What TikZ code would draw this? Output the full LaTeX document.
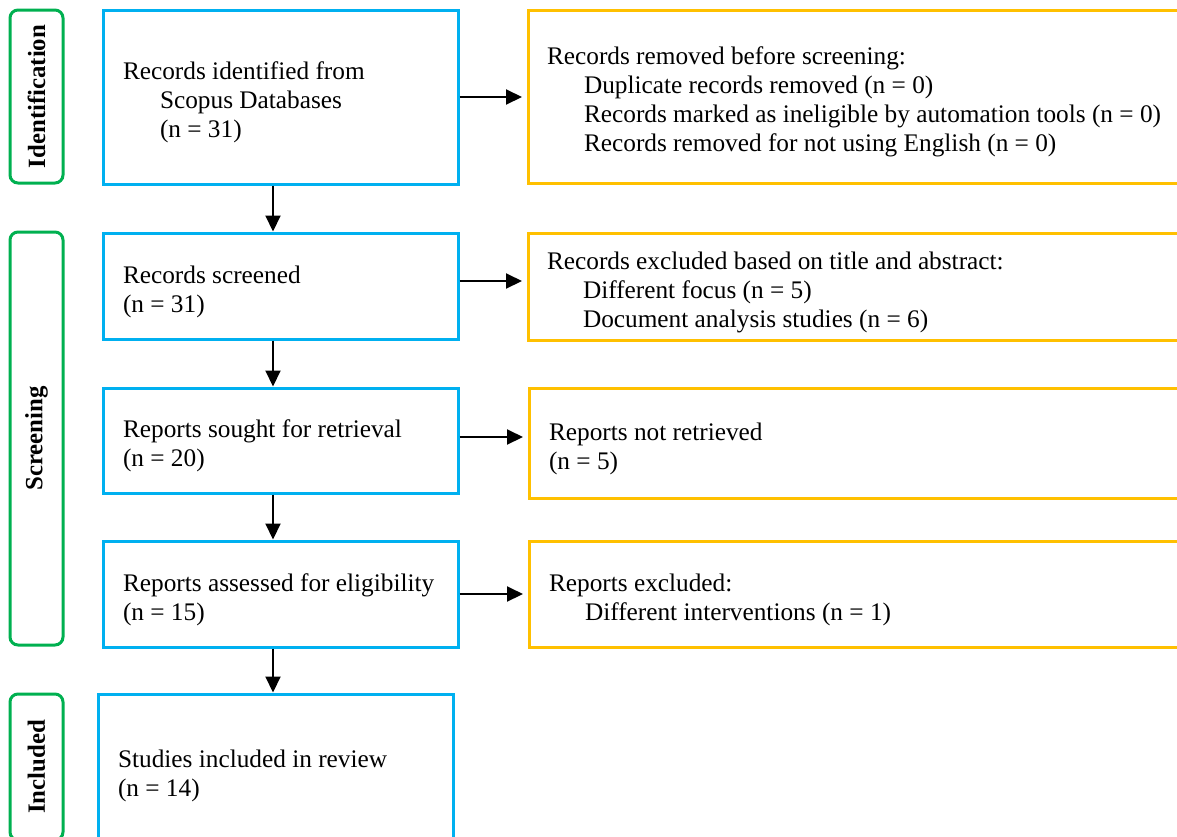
\documentclass[tikz,border=0pt]{standalone}
\usepackage{fontspec}
\setmainfont{Liberation Serif}
\usetikzlibrary{arrows.meta}

\definecolor{verde}{HTML}{00B050}
\definecolor{azul}{HTML}{00B0F0}
\definecolor{ambar}{HTML}{FFC000}

\newcommand{\iniciobox}[1]{\spaceskip 0.25em\relax\xspaceskip 0.25em\relax\noindent\rule{0pt}{#1}}

\tikzstyle{etapa}= [rectangle,rounded corners=4pt,draw=verde,line width=1.5pt,rotate=90,minimum height=26.5pt,inner sep=0pt,font=\bfseries\fontsize{12.4}{14}\selectfont]
\tikzstyle{registro}= [rectangle,draw=azul,line width=1.5pt,minimum width=177.5pt,text width=157.5pt,inner xsep=10pt,align=left,font=\fontsize{12.65}{14.5}\selectfont,execute at begin node={\iniciobox{14.5pt}}]
\tikzstyle{excluido}= [rectangle,draw=ambar,line width=1.5pt,text width=320pt,inner xsep=9.5pt,align=left,font=\fontsize{12.65}{14.5}\selectfont,execute at begin node={\iniciobox{14.5pt}}]
\tikzstyle{flecha}= [black,line width=1pt,-{Triangle[length=8pt,width=7.5pt]}]

\begin{document}
\hyphenpenalty=10000
\exhyphenpenalty=10000
\begin{tikzpicture}[x=0.5pt,y=-0.5pt]
		\clip (0,0) rectangle (1177,836);

		\node (g1) at (36.5,96.5) [etapa,minimum width=86.5pt] {Identification};
		\node (g2) at (36.5,438.5) [etapa,minimum width=206.5pt] {Screening};
		\node (g3) at (36.5,767) [etapa,minimum width=73pt] {Included};

		\node (b1) at (280.5,97) [registro,minimum height=87pt] {Records identified from\\\hspace*{18.5pt}Scopus Databases\\\hspace*{18.5pt}(n = 31)};
		\node (b2) at (280.5,286) [registro,minimum height=53pt] {Records screened\\(n = 31)};
		\node (b3) at (280.5,440.5) [registro,minimum height=52.5pt] {Reports sought for retrieval\\(n = 20)};
		\node (b4) at (280.5,594) [registro,minimum height=53pt] {Reports assessed for eligibility\\(n = 15)};
		\node (b5) at (275.5,770) [registro,minimum height=76pt,execute at begin node={\iniciobox{12.5pt}}] {Studies included in review\\(n = 14)};

		\node (o1) at (867,96.5) [excluido,minimum height=86.5pt,execute at begin node={\iniciobox{11pt}}] {Records removed before screening:\\\hspace*{18.5pt}Duplicate records removed (n = 0)\\\hspace*{18.5pt}Records marked as ineligible by automation tools (n = 0)\\\hspace*{18.5pt}Records removed for not using English (n = 0)};
		\node (o2) at (867,286.5) [excluido,minimum height=53.5pt] {Records excluded based on title and abstract:\\\hspace*{18pt}Different focus (n = 5)\\\hspace*{18pt}Document analysis studies (n = 6)};
		\node (o3) at (869,443) [excluido,inner xsep=10pt,minimum height=55pt] {Reports not retrieved\\(n = 5)};
		\node (o4) at (869,594) [excluido,inner xsep=10pt,minimum height=53pt] {Reports excluded:\\\hspace*{18pt}Different interventions (n = 1)};

		\coordinate (eje) at (273,0);

		\draw[flecha] (b1.south -| eje) -- (b2.north -| eje);
		\draw[flecha] (b2.south -| eje) -- (b3.north -| eje);
		\draw[flecha] (b3.south -| eje) -- (b4.north -| eje);
		\draw[flecha] (b4.south -| eje) -- (b5.north -| eje);

		\draw[flecha,shorten >=2.25pt] (b1.east) -- (b1.east -| o1.west);
		\draw[flecha,shorten >=2.25pt] ([yshift=2.5pt]b2.east) -- ([yshift=2.5pt]b2.east -| o2.west);
		\draw[flecha,shorten >=2.25pt] ([yshift=1.75pt]b3.east) -- ([yshift=1.75pt]b3.east -| o3.west);
		\draw[flecha,shorten >=2.25pt] (b4.east) -- (b4.east -| o4.west);

\end{tikzpicture}
\end{document}
